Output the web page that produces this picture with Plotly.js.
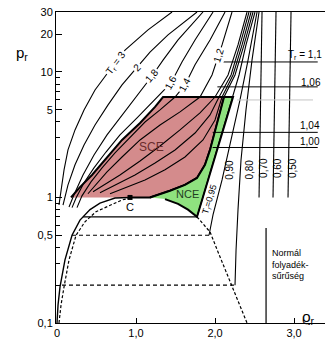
<!DOCTYPE html>
<html><head><meta charset="utf-8">
<script src="https://cdn.plot.ly/plotly-3.0.1.min.js"></script>
<style>html,body{margin:0;padding:0;background:#fff}</style>
</head><body><div id="chart" style="width:328px;height:340px"></div>
<script>
// supercritical isotherms (reduced density, reduced pressure)
const T3_rho = [0.025,0.051,0.089,0.139,0.228,0.342,0.481,0.671,0.861,1.152,1.456];
const T3_p   = [0.87,1.15,1.66,2.39,3.45,4.98,7.18,10.4,14.9,21.6,30];
const T2_rho = [0.076,0.139,0.228,0.342,0.481,0.646,0.823,1.013,1.177,1.405,1.772];
const T2_p   = [0.87,1.26,1.82,2.62,3.78,5.46,7.87,10.9,14.4,19.7,30];
const T18_rho = [0.152,0.215,0.329,0.468,0.633,0.823,1.025,1.203,1.342,1.532,1.848];
const T18_p   = [0.84,1.05,1.51,2.18,3.15,4.54,6.55,9.28,12.4,17.96,30];
const T16_rho = [0.19,0.241,0.342,0.468,0.620,0.797,1.013,1.241,1.443,1.582,1.747,1.975];
const T16_p   = [0.83,0.99,1.31,1.72,2.30,3.15,4.30,5.98,8.16,12.0,17.96,30];
const T14_rho = [0.253,0.316,0.430,0.570,0.734,0.924,1.114,1.304,1.494,1.620,1.747,1.937,2.127];
const T14_p   = [0.83,1.03,1.33,1.72,2.26,3.03,3.99,4.98,6.31,7.87,11.4,17.96,30];
const T12_rho = [0.392,0.494,0.633,0.823,1.051,1.304,1.557,1.810,1.962,2.089,2.215];
const T12_p   = [1.07,1.28,1.60,2.10,2.87,3.78,4.80,6.31,9.45,16.4,30];
const T11_rho = [0.456,0.595,0.797,1.051,1.304,1.557,1.810,2.0,2.165,2.291,2.405];
const T11_p   = [1.11,1.26,1.51,1.95,2.57,3.45,4.71,6.31,9.45,16.4,30];
const T106_rho = [0.544,0.734,0.987,1.241,1.494,1.747,1.937,2.051,2.203,2.316,2.430];
const T106_p   = [1.09,1.26,1.51,1.88,2.39,3.26,4.54,6.31,9.45,16.4,30];
const T104_rho = [0.671,0.861,1.114,1.367,1.620,1.848,2.0,2.089,2.228,2.342,2.456];
const T104_p   = [1.07,1.19,1.38,1.66,2.10,2.87,4.14,6.31,9.45,16.4,30];
// critical isotherm from C upward
const T100_rho = [0.924,1.177,1.430,1.620,1.772,1.873,1.937,1.987,2.038,2.089,2.114,2.253,2.367,2.481];
const T100_p   = [1.0,1.0,1.13,1.26,1.43,1.82,2.39,3.15,4.14,5.46,6.31,9.45,16.4,30];
// subcritical liquid branches
const T095_rho = [1.772,1.924,2.076,2.228,2.304,2.392,2.506];
const T095_p   = [0.70,1.46,3.03,6.31,9.45,16.4,30];
const T090_rho = [1.924,1.975,2.089,2.203,2.316,2.418,2.532];
const T090_p   = [0.50,0.73,1.38,2.87,5.98,12.4,30];
const T080_rho = [2.253,2.266,2.291,2.329,2.392,2.468,2.557];
const T080_p   = [0.20,0.38,0.80,1.99,4.98,12.4,30];
const T070_rho = [2.557,2.595]; const T070_p = [1.0,30];
const T060_rho = [2.734,2.772]; const T060_p = [1.0,30];
const T050_rho = [2.924,2.962]; const T050_p = [1.0,30];
// SCE region left boundary
const sceLeft_rho = [0.177,0.291,0.443,0.633,0.823,1.051,1.241,1.342];
const sceLeft_p   = [1.0,1.21,1.51,2.10,2.87,3.92,5.26,6.31];
// saturated liquid (NCE lower edge)
const satLiq_rho = [1.177,1.367,1.532,1.658,1.772];
const satLiq_p   = [1.0,0.97,0.888,0.80,0.70];
// saturated vapour (solid) and dashed dome
const satVap_rho = [0,0.013,0.038,0.101,0.19,0.291,0.418,0.544,0.734,0.924];
const satVap_p   = [0.1,0.139,0.194,0.318,0.50,0.66,0.80,0.90,0.99,1.0];
const dashL_rho = [0.025,0.051,0.089,0.152,0.241,0.354,0.494,0.671,0.823,0.924];
const dashL_p   = [0.1,0.139,0.194,0.318,0.50,0.64,0.77,0.87,0.955,0.99];
const dashR_rho = [1.772,1.861,1.937,2.038,2.152,2.266,2.405];
const dashR_p   = [0.70,0.60,0.531,0.368,0.246,0.1675,0.10];
// tie lines
const tie095_rho = [0.33,1.772]; const tie095_p = [0.7,0.7];
const tie090_rho = [0.19,1.924]; const tie090_p = [0.5,0.5];
const tie080_rho = [0.063,2.253]; const tie080_p = [0.2,0.2];
// normal liquid density
const normLiq_rho = [2.646,2.646]; const normLiq_p = [0.1,0.57];
// label leader lines at right
const lead_p = [12.0,7.6,3.3,2.5];
const lead_start = [2.09,2.03,1.97,1.97];
const lead_end = 3.30;
const gray_rho = [2.28,3.24]; const gray_p = [5.98,5.98];
const crit_rho = [0.924]; const crit_p = [1.0];

const yTickVals = [0.1,0.5,1,5,10,20,30];
const yTickText = ['0,1','0,5','1','5','10','20','30'];
const yMinor = [0.2,0.3,0.4,0.6,0.7,0.8,0.9,2,3,4,6,7,8,9];
const xTickVals = [0,1,2,3];
const xTickText = ['0','1,0','2,0','3,0'];

function line(x,y,w,dash,color){return {x:x,y:y,mode:'lines',type:'scatter',line:{color:color||'#000',width:w,dash:dash||'solid'},hoverinfo:'skip'};}

// polygons built from the arrays
const redX = sceLeft_rho.concat(T100_rho.slice(0,11).reverse());
const redY = sceLeft_p.concat(T100_p.slice(0,11).reverse());
const grnX = T100_rho.slice(1,11).concat(T095_rho.slice(0,4).reverse(), satLiq_rho.slice(1,4).reverse());
const grnY = T100_p.slice(1,11).concat(T095_p.slice(0,4).reverse(), satLiq_p.slice(1,4).reverse());

const traces = [
  {x:redX,y:redY,type:'scatter',mode:'lines',fill:'toself',fillcolor:'#d48b8c',line:{color:'#000',width:2},hoverinfo:'skip'},
  {x:grnX,y:grnY,type:'scatter',mode:'lines',fill:'toself',fillcolor:'#8fe27f',line:{color:'#000',width:2},hoverinfo:'skip'},
  line(T3_rho,T3_p,1.1), line(T2_rho,T2_p,1.1), line(T18_rho,T18_p,1.1),
  line(T16_rho,T16_p,1.1), line(T14_rho,T14_p,1.1), line(T12_rho,T12_p,1.1),
  line(T11_rho,T11_p,1.1), line(T106_rho,T106_p,1.1), line(T104_rho,T104_p,1.1),
  line(T100_rho,T100_p,1.1), line(T095_rho,T095_p,1.1), line(T090_rho,T090_p,1.1),
  line(T080_rho,T080_p,1.1), line(T070_rho,T070_p,1.1), line(T060_rho,T060_p,1.1), line(T050_rho,T050_p,1.1),
  line(satVap_rho,satVap_p,1.4),
  line(dashL_rho,dashL_p,1.2,'3px,2px'), line(dashR_rho,dashR_p,1.2,'3px,2px'),
  line(tie095_rho,tie095_p,1.1), line(tie090_rho,tie090_p,1.2,'4px,3px'), line(tie080_rho,tie080_p,1.2,'4px,3px'),
  line(normLiq_rho,normLiq_p,1.2),
  line(gray_rho,gray_p,1,'solid','#c4c4c4'),
  {x:crit_rho,y:crit_p,type:'scatter',mode:'markers',marker:{symbol:'square',size:5,color:'#000'},hoverinfo:'skip'}
];
lead_p.forEach((p,i)=>traces.push(line([lead_start[i],lead_end],[p,p],1)));

const L = Math.log10;
function ann(x,p,text,opt){return Object.assign({x:x,y:L(p),xref:'x',yref:'y',text:text,showarrow:false,font:{size:10,color:'#000'}},opt||{});}
const annotations = [
  ann(0.747,11.8,'T<sub>r</sub> = 3',{textangle:-53,bgcolor:'#fff'}),
  ann(1.013,10.9,'2',{textangle:-45,bgcolor:'#fff'}),
  ann(1.203,9.28,'1,8',{textangle:-50,bgcolor:'#fff'}),
  ann(1.443,8.16,'1,6',{textangle:-62,bgcolor:'#fff'}),
  ann(1.620,7.87,'1,4',{textangle:-62,bgcolor:'#fff'}),
  ann(2.04,13.6,'1,2',{textangle:-72,bgcolor:'#fff'}),
  ann(3.14,13.6,'T<sub>r</sub> = 1,1'),
  ann(3.22,8.31,'1,06'),
  ann(3.20,3.71,'1,04'),
  ann(3.20,2.77,'1,00'),
  ann(2.19,1.66,'0,90',{textangle:-90}),
  ann(2.44,1.66,'0,80',{textangle:-90}),
  ann(2.62,1.72,'0,70',{textangle:-90}),
  ann(2.80,1.72,'0,60',{textangle:-90}),
  ann(2.99,1.72,'0,50',{textangle:-90}),
  ann(1.93,0.97,'T<sub>r</sub>=0,95',{textangle:-73,font:{size:9,color:'#000'}}),
  ann(1.19,2.53,'SCE',{font:{size:12,color:'#6a2c2c'}}),
  ann(1.646,1.07,'NCE',{font:{size:11,color:'#1f3d1f'}}),
  ann(0.924,0.84,'C',{font:{size:11,color:'#000'}}),
  ann(2.70,0.29,'Normál<br>folyadék-<br>sűrűség',{xanchor:'left',align:'left',font:{size:9,color:'#000'}}),
  {x:-0.157,y:0.905,xref:'paper',yref:'paper',text:'p<sub>r</sub>',showarrow:false,font:{size:15,color:'#000'}},
  {x:0.972,y:-0.02,xref:'paper',yref:'paper',text:'ϱ<sub>r</sub>',showarrow:false,font:{size:15,color:'#000'}}
];

const layout = {
  width:328,height:340,margin:{l:56,r:3,t:12,b:17},
  paper_bgcolor:'#fff',plot_bgcolor:'#fff',showlegend:false,hovermode:false,
  font:{family:'Liberation Sans, Arial, sans-serif',size:11,color:'#000'},
  xaxis:{range:[-0.0127,3.392],showgrid:false,zeroline:false,showline:true,linecolor:'#000',linewidth:1,mirror:true,
         ticks:'inside',ticklen:5,tickcolor:'#000',tickvals:xTickVals,ticktext:xTickText,tickfont:{size:11}},
  yaxis:{type:'log',range:[-1,Math.log10(30)],showgrid:false,zeroline:false,showline:true,linecolor:'#000',linewidth:1,
         ticks:'inside',ticklen:6,tickcolor:'#000',tickvals:yTickVals,ticktext:yTickText,tickfont:{size:11},
         minor:{tickvals:yMinor,ticks:'inside',ticklen:4,tickcolor:'#000',showgrid:false}},
  annotations:annotations
};
Plotly.newPlot('chart',traces,layout,{displayModeBar:false,staticPlot:true});
</script></body></html>
